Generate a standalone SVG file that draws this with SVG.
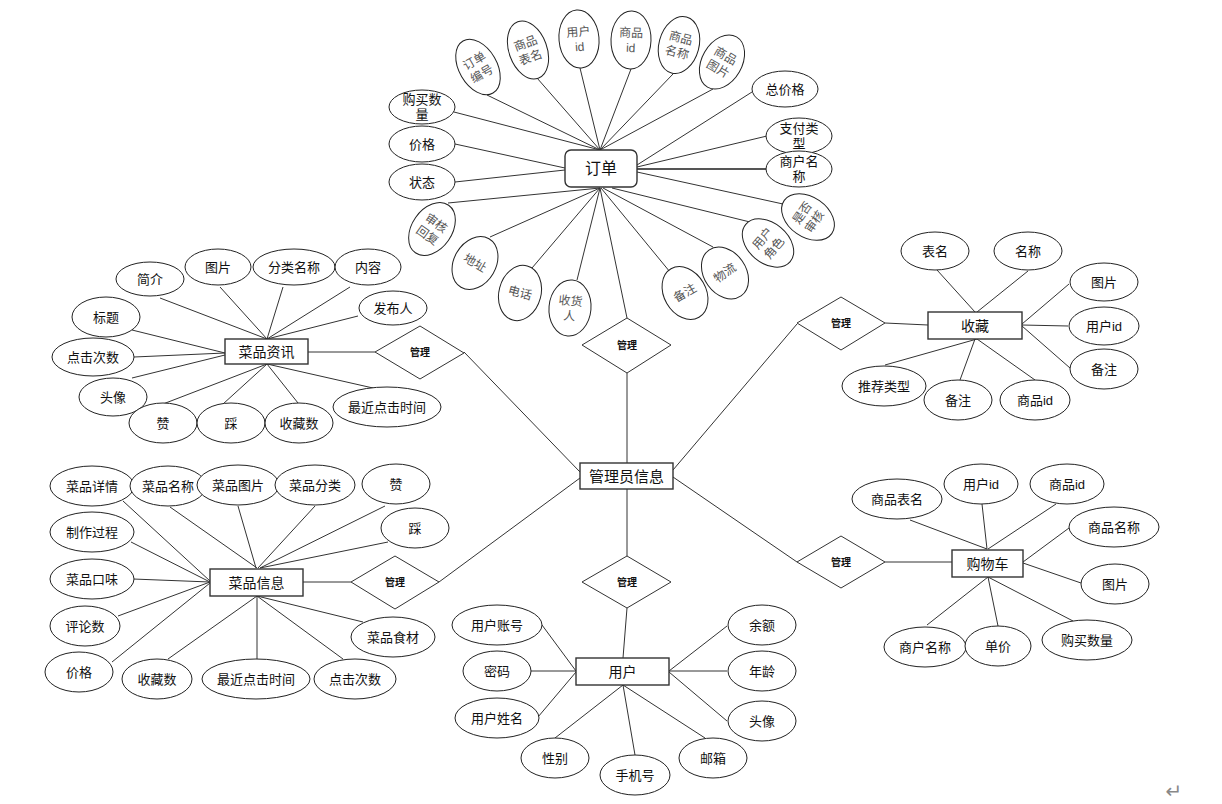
<svg xmlns="http://www.w3.org/2000/svg" width="1222" height="804" viewBox="0 0 1222 804">
<style>
text{font-family:"Liberation Sans","Noto Sans CJK SC",sans-serif;font-size:13px;fill:#111;text-anchor:middle;dominant-baseline:central}
.a ellipse{fill:#fff;stroke:#222;stroke-width:1}
.r text{fill:#555;font-size:12px}
.e rect{fill:#fff;stroke:#333;stroke-width:1.4}
.e text{font-size:14px}
.d polygon{fill:#fff;stroke:#333;stroke-width:1}
.d text{font-size:10px;font-weight:bold}
#conn line{stroke:#333;stroke-width:1}
</style>
<rect width="1222" height="804" fill="#fff"/>
<g id="conn">
<line x1="487" y1="95" x2="600" y2="150"/>
<line x1="537" y1="78" x2="600" y2="150"/>
<line x1="580" y1="68" x2="600" y2="150"/>
<line x1="631" y1="69" x2="600" y2="150"/>
<line x1="673" y1="74" x2="600" y2="150"/>
<line x1="713" y1="89" x2="600" y2="150"/>
<line x1="454" y1="112" x2="600" y2="150"/>
<line x1="455" y1="144" x2="565" y2="168"/>
<line x1="455" y1="182" x2="565" y2="170"/>
<line x1="448" y1="203" x2="600" y2="188"/>
<line x1="490" y1="237" x2="600" y2="188"/>
<line x1="532" y1="268" x2="600" y2="188"/>
<line x1="577" y1="280" x2="600" y2="188"/>
<line x1="670" y1="272" x2="601" y2="188"/>
<line x1="713" y1="247" x2="603" y2="188"/>
<line x1="750" y1="222" x2="612" y2="188"/>
<line x1="783" y1="204" x2="637" y2="172"/>
<line x1="627" y1="318" x2="600" y2="188"/>
<line x1="752" y1="92" x2="637" y2="165"/>
<line x1="767" y1="136" x2="637" y2="167"/>
<line x1="767" y1="169" x2="637" y2="169" style="stroke:#555;stroke-width:2"/>
<line x1="464" y1="352" x2="580" y2="472"/>
<line x1="439" y1="582" x2="580" y2="478"/>
<line x1="627" y1="373" x2="627" y2="463"/>
<line x1="797" y1="324" x2="673" y2="470"/>
<line x1="797" y1="562" x2="673" y2="477"/>
<line x1="627" y1="556" x2="627" y2="489"/>
<line x1="308" y1="352" x2="375" y2="352"/>
<line x1="303" y1="582" x2="351" y2="582"/>
<line x1="885" y1="323" x2="928" y2="325"/>
<line x1="885" y1="562" x2="952" y2="562"/>
<line x1="627" y1="608" x2="623" y2="658"/>
<line x1="160" y1="298" x2="267" y2="339"/>
<line x1="220" y1="287" x2="267" y2="339"/>
<line x1="283" y1="287" x2="267" y2="339"/>
<line x1="350" y1="287" x2="267" y2="339"/>
<line x1="358" y1="316" x2="267" y2="339"/>
<line x1="132" y1="330" x2="225" y2="353"/>
<line x1="134" y1="357" x2="225" y2="353"/>
<line x1="132" y1="378" x2="225" y2="355"/>
<line x1="163" y1="404" x2="267" y2="364"/>
<line x1="223" y1="404" x2="267" y2="364"/>
<line x1="298" y1="403" x2="267" y2="364"/>
<line x1="373" y1="388" x2="267" y2="364"/>
<line x1="123" y1="501" x2="210" y2="581"/>
<line x1="170" y1="507" x2="257" y2="568"/>
<line x1="238" y1="506" x2="256" y2="568"/>
<line x1="315" y1="506" x2="258" y2="568"/>
<line x1="385" y1="506" x2="260" y2="568"/>
<line x1="388" y1="542" x2="260" y2="568"/>
<line x1="131" y1="542" x2="210" y2="582"/>
<line x1="133" y1="579" x2="210" y2="582"/>
<line x1="118" y1="616" x2="210" y2="582"/>
<line x1="112" y1="662" x2="210" y2="583"/>
<line x1="168" y1="659" x2="257" y2="596"/>
<line x1="257" y1="659" x2="257" y2="596"/>
<line x1="343" y1="659" x2="257" y2="596"/>
<line x1="363" y1="622" x2="257" y2="596"/>
<line x1="937" y1="270" x2="975" y2="312"/>
<line x1="1028" y1="271" x2="977" y2="312"/>
<line x1="1069" y1="284" x2="1022" y2="324"/>
<line x1="1068" y1="326" x2="1022" y2="325"/>
<line x1="1070" y1="368" x2="1022" y2="326"/>
<line x1="885" y1="365" x2="977" y2="339"/>
<line x1="960" y1="380" x2="975" y2="339"/>
<line x1="1035" y1="380" x2="977" y2="339"/>
<line x1="910" y1="520" x2="987" y2="549"/>
<line x1="982" y1="504" x2="987" y2="549"/>
<line x1="1056" y1="504" x2="988" y2="549"/>
<line x1="1069" y1="528" x2="1023" y2="562"/>
<line x1="1081" y1="583" x2="1023" y2="563"/>
<line x1="1073" y1="621" x2="988" y2="577"/>
<line x1="927" y1="625" x2="988" y2="577"/>
<line x1="998" y1="626" x2="988" y2="577"/>
<line x1="542" y1="625" x2="576" y2="671"/>
<line x1="531" y1="671" x2="576" y2="671"/>
<line x1="538" y1="717" x2="576" y2="672"/>
<line x1="555" y1="738" x2="623" y2="685"/>
<line x1="635" y1="755" x2="623" y2="685"/>
<line x1="705" y1="738" x2="623" y2="685"/>
<line x1="727" y1="626" x2="669" y2="671"/>
<line x1="727" y1="671" x2="669" y2="671"/>
<line x1="727" y1="721" x2="669" y2="672"/>
</g>

<g id="order" class="e"><rect x="565" y="150" width="72" height="37" rx="6"/><text x="601" y="168" style="font-size:16px">订单</text></g>
<g id="admin" class="e"><rect x="580" y="463" width="93" height="26"/><text x="626.5" y="476" style="font-size:15px">管理员信息</text></g>
<g id="news" class="e"><rect x="225" y="339" width="83" height="25"/><text x="266.5" y="351.5">菜品资讯</text></g>
<g id="dish" class="e"><rect x="210" y="569" width="93" height="27"/><text x="256.5" y="582.5">菜品信息</text></g>
<g id="fav" class="e"><rect x="928" y="312" width="94" height="27"/><text x="975" y="325.5">收藏</text></g>
<g id="cart" class="e"><rect x="952" y="550" width="71" height="27"/><text x="987.5" y="563.5">购物车</text></g>
<g id="user" class="e"><rect x="576" y="658" width="93" height="27"/><text x="622.5" y="671.5">用户</text></g>

<g id="rel-order" class="d"><polygon points="582,345 627,318 671,345 627,373"/><text x="627" y="345">管理</text></g>
<g id="rel-news" class="d"><polygon points="375,352 420,326 464,353 420,379"/><text x="420" y="352">管理</text></g>
<g id="rel-dish" class="d"><polygon points="351,582 395,556 439,582 395,609"/><text x="395" y="582">管理</text></g>
<g id="rel-fav" class="d"><polygon points="797,323 841,297 885,323 841,350"/><text x="841" y="323">管理</text></g>
<g id="rel-cart" class="d"><polygon points="797,562 841,536 885,562 841,588"/><text x="841" y="562">管理</text></g>
<g id="rel-user" class="d"><polygon points="582,582 627,556 671,582 627,608"/><text x="627" y="582">管理</text></g>

<g id="o-ddbh" class="a r" transform="translate(478,67) rotate(-30)"><ellipse rx="19" ry="30"/><text y="-7">订单</text><text y="8">编号</text></g>
<g id="o-spbm" class="a r" transform="translate(528,50) rotate(-20)"><ellipse rx="19" ry="30"/><text y="-7">商品</text><text y="8">表名</text></g>
<g id="o-yhid" class="a r" transform="translate(579,39) rotate(-5)"><ellipse rx="20" ry="29"/><text y="-7">用户</text><text y="8">id</text></g>
<g id="o-spid" class="a r" transform="translate(631,40) rotate(2)"><ellipse rx="20" ry="29"/><text y="-7">商品</text><text y="8">id</text></g>
<g id="o-spmc" class="a r" transform="translate(679,45) rotate(15)"><ellipse rx="20" ry="29"/><text y="-7">商品</text><text y="8">名称</text></g>
<g id="o-sptp" class="a r" transform="translate(722,62) rotate(30)"><ellipse rx="20" ry="29"/><text y="-7">商品</text><text y="8">图片</text></g>
<g id="o-shhf" class="a r" transform="translate(432,229) rotate(35)"><ellipse rx="20" ry="29"/><text y="-7">审核</text><text y="8">回复</text></g>
<g id="o-dz" class="a r" transform="translate(475,263) rotate(30)"><ellipse rx="21" ry="28"/><text>地址</text></g>
<g id="o-dh" class="a r" transform="translate(520,293) rotate(15)"><ellipse rx="21" ry="28"/><text>电话</text></g>
<g id="o-shr" class="a r" transform="translate(570,308) rotate(5)"><ellipse rx="21" ry="28"/><text y="-7">收货</text><text y="8">人</text></g>
<g id="o-bz" class="a r" transform="translate(685,293) rotate(-30)"><ellipse rx="21" ry="28"/><text>备注</text></g>
<g id="o-wl" class="a r" transform="translate(725,273) rotate(-35)"><ellipse rx="21" ry="28"/><text>物流</text></g>
<g id="o-yhjs" class="a r" transform="translate(768,243) rotate(-50)"><ellipse rx="20" ry="29"/><text y="-7">用户</text><text y="8">角色</text></g>
<g id="o-sfsh" class="a r" transform="translate(808,217) rotate(-55)"><ellipse rx="20" ry="29"/><text y="-7">是否</text><text y="8">审核</text></g>
<g id="o-gmsl" class="a"><ellipse cx="422" cy="107" rx="33" ry="17"/><text x="422" y="99">购买数</text><text x="422" y="114">量</text></g>
<g id="o-jg" class="a"><ellipse cx="422" cy="144" rx="33" ry="18"/><text x="422" y="144">价格</text></g>
<g id="o-zt" class="a"><ellipse cx="422" cy="182" rx="33" ry="18"/><text x="422" y="182">状态</text></g>
<g id="o-zjg" class="a"><ellipse cx="785" cy="89" rx="33" ry="18"/><text x="785" y="89">总价格</text></g>
<g id="o-zflx" class="a"><ellipse cx="799" cy="136" rx="33" ry="18"/><text x="799" y="128">支付类</text><text x="799" y="143">型</text></g>
<g id="o-shmc" class="a"><ellipse cx="799" cy="169" rx="33" ry="18"/><text x="799" y="161">商户名</text><text x="799" y="176">称</text></g>

<g id="n-jj" class="a"><ellipse cx="150" cy="279" rx="34" ry="17"/><text x="150" y="279">简介</text></g>
<g id="n-tp" class="a"><ellipse cx="218" cy="267" rx="33" ry="18"/><text x="218" y="267">图片</text></g>
<g id="n-flmc" class="a"><ellipse cx="294" cy="267" rx="41" ry="18"/><text x="294" y="267">分类名称</text></g>
<g id="n-nr" class="a"><ellipse cx="368" cy="267" rx="33" ry="18"/><text x="368" y="267">内容</text></g>
<g id="n-fbr" class="a"><ellipse cx="393" cy="308" rx="34" ry="17"/><text x="393" y="308">发布人</text></g>
<g id="n-bt" class="a"><ellipse cx="106" cy="317" rx="34" ry="20"/><text x="106" y="317">标题</text></g>
<g id="n-djcs" class="a"><ellipse cx="93" cy="357" rx="41" ry="19"/><text x="93" y="357">点击次数</text></g>
<g id="n-tx" class="a"><ellipse cx="113" cy="397" rx="34" ry="19"/><text x="113" y="397">头像</text></g>
<g id="n-z" class="a"><ellipse cx="163" cy="423" rx="34" ry="20"/><text x="163" y="423">赞</text></g>
<g id="n-c" class="a"><ellipse cx="231" cy="423" rx="34" ry="20"/><text x="231" y="423">踩</text></g>
<g id="n-scs" class="a"><ellipse cx="299" cy="423" rx="34" ry="20"/><text x="299" y="423">收藏数</text></g>
<g id="n-zjdj" class="a"><ellipse cx="387" cy="407" rx="54" ry="20"/><text x="387" y="407">最近点击时间</text></g>

<g id="d-cpxq" class="a"><ellipse cx="92" cy="486" rx="42" ry="20"/><text x="92" y="486">菜品详情</text></g>
<g id="d-cpmc" class="a"><ellipse cx="168" cy="486" rx="38" ry="20"/><text x="168" y="486">菜品名称</text></g>
<g id="d-cptp" class="a"><ellipse cx="238" cy="485" rx="41" ry="20"/><text x="238" y="485">菜品图片</text></g>
<g id="d-cpfl" class="a"><ellipse cx="315" cy="485" rx="40" ry="20"/><text x="315" y="485">菜品分类</text></g>
<g id="d-z" class="a"><ellipse cx="396" cy="484" rx="34" ry="20"/><text x="396" y="484">赞</text></g>
<g id="d-c" class="a"><ellipse cx="415" cy="528" rx="34" ry="20"/><text x="415" y="528">踩</text></g>
<g id="d-zzgc" class="a"><ellipse cx="92" cy="532" rx="42" ry="20"/><text x="92" y="532">制作过程</text></g>
<g id="d-cpkw" class="a"><ellipse cx="92" cy="579" rx="42" ry="20"/><text x="92" y="579">菜品口味</text></g>
<g id="d-pls" class="a"><ellipse cx="85" cy="626" rx="35" ry="20"/><text x="85" y="626">评论数</text></g>
<g id="d-jg" class="a"><ellipse cx="79" cy="672" rx="34" ry="20"/><text x="79" y="672">价格</text></g>
<g id="d-scs" class="a"><ellipse cx="157" cy="679" rx="35" ry="20"/><text x="157" y="679">收藏数</text></g>
<g id="d-zjdj" class="a"><ellipse cx="256" cy="679" rx="54" ry="20"/><text x="256" y="679">最近点击时间</text></g>
<g id="d-djcs" class="a"><ellipse cx="355" cy="679" rx="41" ry="20"/><text x="355" y="679">点击次数</text></g>
<g id="d-cpsc" class="a"><ellipse cx="393" cy="637" rx="42" ry="20"/><text x="393" y="637">菜品食材</text></g>

<g id="f-bm" class="a"><ellipse cx="935" cy="251" rx="34" ry="19"/><text x="935" y="251">表名</text></g>
<g id="f-mc" class="a"><ellipse cx="1028" cy="251" rx="34" ry="19"/><text x="1028" y="251">名称</text></g>
<g id="f-tp" class="a"><ellipse cx="1104" cy="282" rx="34" ry="19"/><text x="1104" y="282">图片</text></g>
<g id="f-yhid" class="a"><ellipse cx="1104" cy="326" rx="35" ry="19"/><text x="1104" y="326">用户id</text></g>
<g id="f-bz1" class="a"><ellipse cx="1104" cy="369" rx="34" ry="20"/><text x="1104" y="369">备注</text></g>
<g id="f-tjlx" class="a"><ellipse cx="884" cy="386" rx="42" ry="20"/><text x="884" y="386">推荐类型</text></g>
<g id="f-bz2" class="a"><ellipse cx="958" cy="400" rx="34" ry="20"/><text x="958" y="400">备注</text></g>
<g id="f-spid" class="a"><ellipse cx="1035" cy="400" rx="35" ry="20"/><text x="1035" y="400">商品id</text></g>

<g id="c-spbm" class="a"><ellipse cx="897" cy="499" rx="45" ry="20"/><text x="897" y="499">商品表名</text></g>
<g id="c-yhid" class="a"><ellipse cx="981" cy="484" rx="37" ry="20"/><text x="981" y="484">用户id</text></g>
<g id="c-spid" class="a"><ellipse cx="1067" cy="484" rx="37" ry="20"/><text x="1067" y="484">商品id</text></g>
<g id="c-spmc" class="a"><ellipse cx="1114" cy="527" rx="45" ry="20"/><text x="1114" y="527">商品名称</text></g>
<g id="c-tp" class="a"><ellipse cx="1115" cy="584" rx="34" ry="20"/><text x="1115" y="584">图片</text></g>
<g id="c-gmsl" class="a"><ellipse cx="1087" cy="640" rx="45" ry="20"/><text x="1087" y="640">购买数量</text></g>
<g id="c-shmc" class="a"><ellipse cx="925" cy="647" rx="41" ry="20"/><text x="925" y="647">商户名称</text></g>
<g id="c-dj" class="a"><ellipse cx="998" cy="646" rx="33" ry="20"/><text x="998" y="646">单价</text></g>

<g id="u-yhzh" class="a"><ellipse cx="497" cy="625" rx="45" ry="20"/><text x="497" y="625">用户账号</text></g>
<g id="u-mm" class="a"><ellipse cx="497" cy="671" rx="34" ry="20"/><text x="497" y="671">密码</text></g>
<g id="u-yhxm" class="a"><ellipse cx="497" cy="718" rx="42" ry="20"/><text x="497" y="718">用户姓名</text></g>
<g id="u-xb" class="a"><ellipse cx="555" cy="758" rx="34" ry="20"/><text x="555" y="758">性别</text></g>
<g id="u-sjh" class="a"><ellipse cx="635" cy="775" rx="35" ry="20"/><text x="635" y="775">手机号</text></g>
<g id="u-yx" class="a"><ellipse cx="713" cy="758" rx="34" ry="20"/><text x="713" y="758">邮箱</text></g>
<g id="u-ye" class="a"><ellipse cx="762" cy="625" rx="34" ry="20"/><text x="762" y="625">余额</text></g>
<g id="u-nl" class="a"><ellipse cx="762" cy="671" rx="34" ry="20"/><text x="762" y="671">年龄</text></g>
<g id="u-tx" class="a"><ellipse cx="762" cy="721" rx="34" ry="20"/><text x="762" y="721">头像</text></g>

<text x="1174" y="791" style="font-family:'DejaVu Sans',sans-serif;font-size:20px;fill:#888">↵</text>
</svg>
